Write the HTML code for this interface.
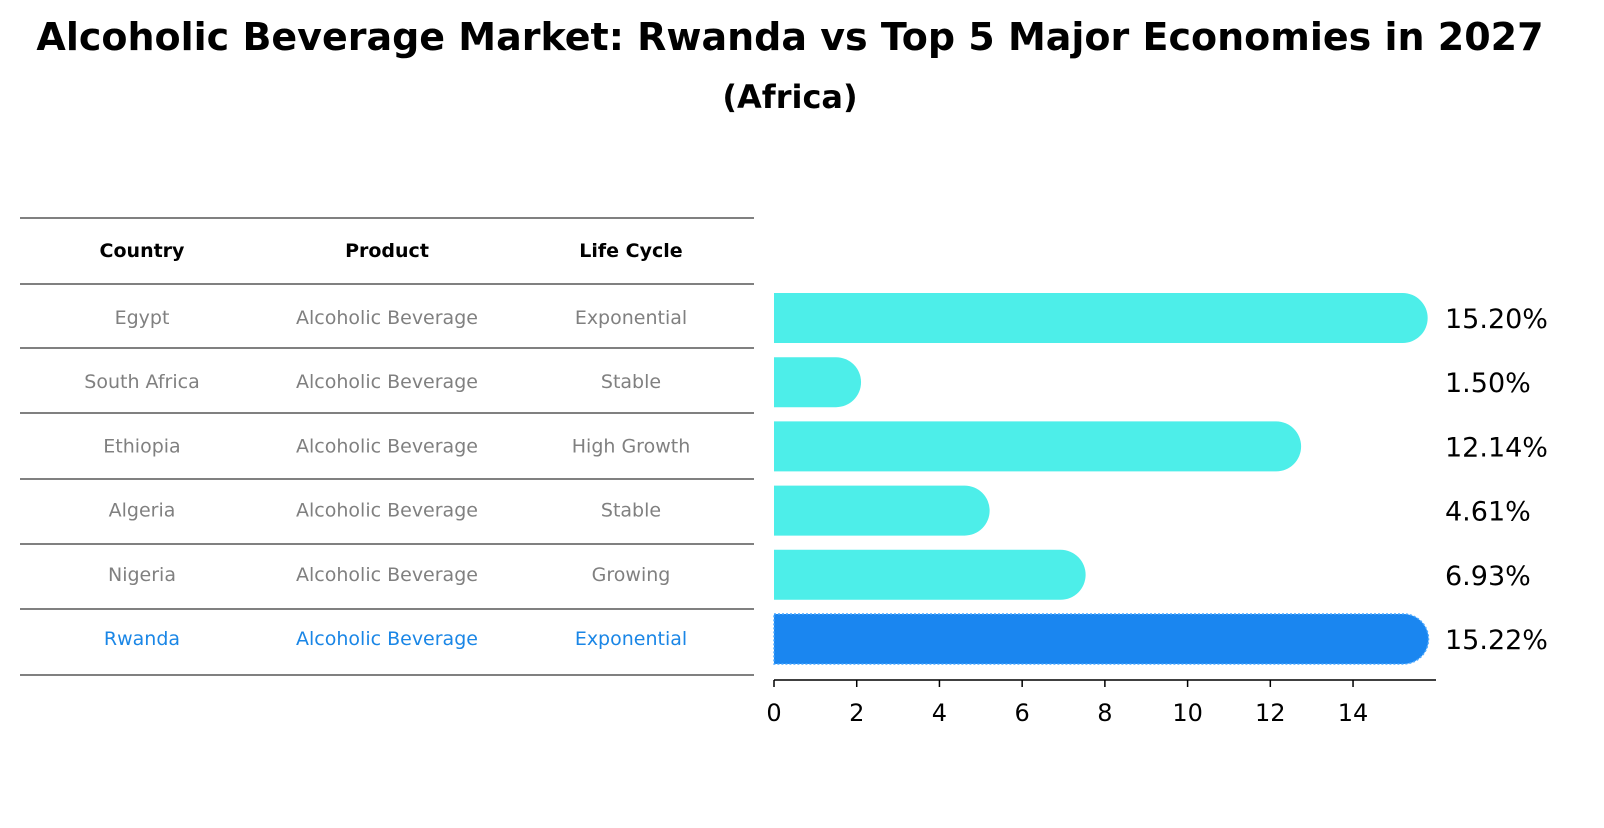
<!DOCTYPE html>
<html><head><meta charset="utf-8"><style>
body{margin:0;background:#fff;font-family:"Liberation Sans","DejaVu Sans",sans-serif}
</style></head><body>
<svg width="1604" height="823" xmlns="http://www.w3.org/2000/svg" font-family="DejaVu Sans, Liberation Sans, sans-serif">
<text x="790" y="50" text-anchor="middle" font-size="38" font-weight="bold">Alcoholic Beverage Market: Rwanda vs Top 5 Major Economies in 2027</text>
<text x="790" y="108" text-anchor="middle" font-size="32" font-weight="bold">(Africa)</text>
<g id="table"></g>
<g id="bars"></g>
</svg>
<script>
const countries=["Egypt","South Africa","Ethiopia","Algeria","Nigeria","Rwanda"];
const products=["Alcoholic Beverage","Alcoholic Beverage","Alcoholic Beverage","Alcoholic Beverage","Alcoholic Beverage","Alcoholic Beverage"];
const lifeCycles=["Exponential","Stable","High Growth","Stable","Growing","Exponential"];
const values=[15.20,1.50,12.14,4.61,6.93,15.22];
const xTicks=[0,2,4,6,8,10,12,14];
const NS="http://www.w3.org/2000/svg";
function mk(t,a,p){const e=document.createElementNS(NS,t);for(const k in a)e.setAttribute(k,a[k]);p.appendChild(e);return e;}
const tbl=document.getElementById('table'), bars=document.getElementById('bars');
const x0=774, unit=41.36, rowY=i=>318+i*64.2, barH=50;
const xs=v=>x0+v*unit;
const colX=[142,387,631];
["Country","Product","Life Cycle"].forEach((h,j)=>{const t=mk('text',{x:colX[j],y:257,'text-anchor':'middle','font-size':19,'font-weight':'bold'},tbl);t.textContent=h;

});
const lineYs=[218,284,348,413,479,544,609,675];
lineYs.forEach(y=>{const l=mk('line',{x1:20,x2:754,y1:y,y2:y,stroke:'#000','stroke-width':1},tbl);

});
countries.forEach((c,i)=>{
 const col=i===5?'#1a86e6':'#808080';
 [c,products[i],lifeCycles[i]].forEach((s,j)=>{const t=mk('text',{x:colX[j],y:rowY(i)+6,'text-anchor':'middle','font-size':19,fill:col},tbl);t.textContent=s;
 
 });
 const y=rowY(i), w=xs(values[i])-x0, r=barH/2;
 const d=`M${x0},${y-r} H${x0+w} A${r},${r} 0 0 1 ${x0+w},${y+r} H${x0} Z`;
 const b=mk('path',{d:d,fill:i===5?'#1a86f0':'#4deee9'},bars);
 if(i===5){b.setAttribute('stroke','#4aa8ff');b.setAttribute('stroke-dasharray','2,2');b.setAttribute('stroke-width','1.5');}
 
 
 const lt=mk('text',{x:1445,y:y+10,'font-size':27},bars);lt.textContent=values[i].toFixed(2)+'%';
 
 
});
const ax=mk('line',{x1:x0,x2:1436,y1:680,y2:680,stroke:'#000','stroke-width':1.5},bars);


xTicks.forEach(v=>{const tl=mk('line',{x1:xs(v),x2:xs(v),y1:680,y2:687,stroke:'#000','stroke-width':1.5},bars);


const t=mk('text',{x:xs(v),y:721,'text-anchor':'middle','font-size':24},bars);t.textContent=v;

});
</script>
</body></html>
